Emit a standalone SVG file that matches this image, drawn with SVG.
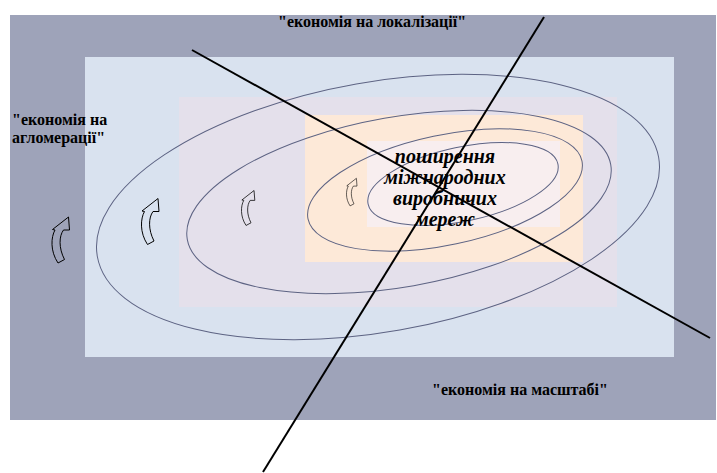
<svg xmlns="http://www.w3.org/2000/svg" width="717" height="473" viewBox="0 0 717 473">
<style>
.lbl{font-family:"Liberation Serif","Times New Roman",serif;font-weight:bold;font-size:16px;fill:#000}
.ctr{font-family:"Liberation Serif","Times New Roman",serif;font-weight:bold;font-style:italic;font-size:20px;fill:#000;text-anchor:middle}
.ell{fill:none;stroke:#5d6383;stroke-width:1}
.arr{fill:none;stroke:#000;stroke-width:1}
.axis{stroke:#000;stroke-width:2;fill:none}
</style>
<defs>
<path id="ar" d="M6,46 C-2,34 -1,20 3,13 L0.5,12.5 L16.5,0 L17.5,13 L11.5,13 C7,19 6.5,31 12.5,42.5 Z"/>
</defs>
<g id="background">
<rect x="10" y="15" width="706" height="405" fill="#9ea3b9"/>
<rect x="85" y="57" width="589" height="300" fill="#d9e2ef"/>
<rect x="179" y="97" width="438" height="210" fill="#e4e0eb"/>
<rect x="305" y="115" width="278" height="147" fill="#fde9d8"/>
<rect x="367" y="141" width="193" height="86" fill="#f8eeef"/>
</g>
<g id="ellipses">
<ellipse class="ell" cx="378" cy="207" rx="285" ry="125" transform="rotate(-10 378 207)"/>
<ellipse class="ell" cx="399" cy="202" rx="215" ry="85" transform="rotate(-10 399 202)"/>
<ellipse class="ell" cx="445" cy="190" rx="140" ry="55" transform="rotate(-12 445 190)"/>
<ellipse class="ell" cx="463" cy="184" rx="97" ry="37" transform="rotate(-12 463 184)"/>
</g>
<g id="arrows">
<use href="#ar" class="arr" transform="translate(52,217)"/>
<use href="#ar" class="arr" transform="translate(141.5,198.5)"/>
<use href="#ar" class="arr" transform="translate(241.5,190.5) scale(0.76)"/>
<use href="#ar" class="arr" transform="translate(346.5,178.3) scale(0.6)"/>
</g>
<g id="labels">
<text class="lbl" x="278" y="27">"економія на локалізації"</text>
<text class="lbl" x="12" y="125">"економія на</text>
<text class="lbl" x="12" y="143">агломерації"</text>
<text class="lbl" x="432" y="395">"економія на масштабі"</text>
</g>
<g id="center-node">
<text class="ctr" x="445" y="163">поширення</text>
<text class="ctr" x="445" y="184">міжнародних</text>
<text class="ctr" x="445" y="205">виробничих</text>
<text class="ctr" x="445" y="226">мереж</text>
</g>
<g id="connectors">
<line class="axis" x1="192" y1="50" x2="710" y2="338"/>
<line class="axis" x1="544" y1="17" x2="263" y2="472"/>
</g>
</svg>
